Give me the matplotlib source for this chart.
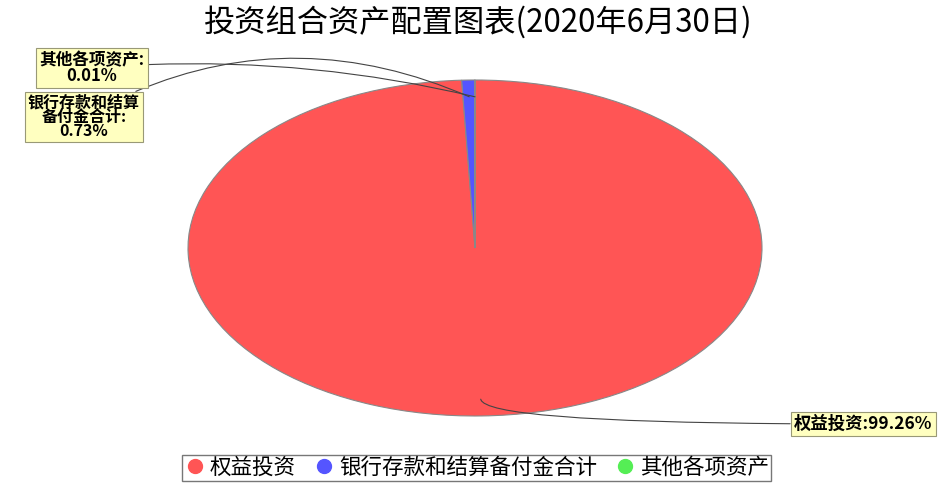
import matplotlib
matplotlib.use("Agg")
from matplotlib import pyplot
from matplotlib.lines import Line2D

pyplot.rcParams["font.family"] = ["Noto Sans CJK SC", "DejaVu Sans"]

categories = ["权益投资", "银行存款和结算备付金合计", "其他各项资产"]
shares = [99.26, 0.73, 0.01]
label_texts = ["权益投资:99.26%", "银行存款和结算\n备付金合计:\n0.73%", "其他各项资产:\n0.01%"]
colors = ["#FF5555", "#5555FF", "#55EE55"]

W, H = 953, 486
figure = pyplot.figure(figsize=(W / 100, H / 100), dpi=100)
# pie ellipse spans x 188..762, y 80..416 (pixels from top)
axis = figure.add_axes([188 / W, (H - 416) / H, 574 / W, 336 / H])
wedges, _ = axis.pie(shares, colors=colors, startangle=90, counterclock=False,
                     wedgeprops=dict(edgecolor="#888888", linewidth=0.8))
axis.set_aspect("auto")
axis.set_xlim(-1, 1)
axis.set_ylim(-1, 1)
axis.axis("off")

box = dict(boxstyle="square,pad=0.2", fc="#FFFFC0", ec="#999977", lw=0.8)


def px(x, y):
    return (x / W, 1 - y / H)


# label anchors in figure pixels, wedge attach points in data coords
annots = [
    (label_texts[0], (0.02, -0.9), px(794, 424), "left", "center", "angle3,angleA=0,angleB=100", 12.5),
    (label_texts[1], (-0.02, 0.9), px(84, 117), "center", "center", "arc3,rad=-0.25", 11.5),
    (label_texts[2], (0.0, 0.9), px(92, 68), "center", "center", "arc3,rad=-0.08", 12),
]
for text, xy, xytext, ha, va, conn, size in annots:
    axis.annotate(text, xy=xy, xycoords="data", xytext=xytext, textcoords="figure fraction",
                  ha=ha, va=va, fontsize=size, fontweight="bold", linespacing=0.85,
                  bbox=box, annotation_clip=False,
                  arrowprops=dict(arrowstyle="-", color="#444444", lw=0.8,
                                  connectionstyle=conn, shrinkA=0, shrinkB=0))

figure.text(478 / W, 1 - 22 / H, "投资组合资产配置图表(2020年6月30日)", ha="center", va="center",
            fontsize=22.5)

handles = [Line2D([], [], linestyle="none", marker="o", markersize=10, color=c) for c in colors]
legend = figure.legend(handles, categories, loc="lower center", bbox_to_anchor=(0.5, -0.012), ncol=3,
                       frameon=True, fancybox=False, fontsize=15.5, handletextpad=0.2,
                       columnspacing=0.8, borderpad=0.1, handlelength=1.0)
legend.get_frame().set_edgecolor("#555555")

figure.savefig("out.png", dpi=100)
